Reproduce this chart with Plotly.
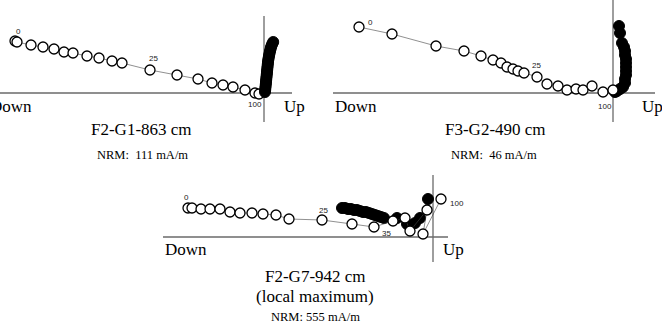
import plotly.graph_objects as go

W, H = 662, 326

# ---------------- data (Zijderveld components, arbitrary units) ----------------
# Panel A: F2-G1-863 cm
a_open_h = [-249, -247, -233, -221, -210, -200, -191, -177, -165, -152, -142, -114, -87, -66, -52, -41, -31, -19, -9, -5]
a_open_v = [52, 51, 48, 46, 44, 41, 40, 37, 35, 32, 30, 23, 18, 14, 10, 8, 6, 3, 0, -1]
a_fill_h = [1, 1.2, 1.4, 1.6, 1.8, 2, 2.2, 2.4, 2.6, 2.8, 3, 3.2, 3.4, 3.6, 3.8, 4, 4.3, 4.6, 5, 5.4, 5.8, 6.3, 6.8, 7.4, 8.2, 9.2]
a_fill_v = [1, 3, 5, 7, 9, 11, 13, 15, 17, 19, 21, 23, 25, 27, 29, 31, 33, 35, 37, 39, 41, 43, 45, 47, 49, 51]
a_labels = ["0", "25", "100"]
a_lab_h = [-246, -111, -9]
a_lab_v = [62, 35, -11]

# Panel B: F3-G2-490 cm
b_open_h = [-254, -221, -177, -149, -132, -120, -112, -106, -100, -95, -89, -76, -66, -55, -46, -37, -30, -21, -10, 0]
b_open_v = [66, 59, 47, 42, 37, 33, 30, 26, 24, 22, 20, 16, 9, 7, 3, 4, 3, 7, 1, 3]
b_fill_h = [6, 7, 9, 11, 12, 12, 13, 13, 13, 13, 13, 12, 12, 10, 7, 4, 2]
b_fill_v = [67, 60, 50, 46, 42, 38, 34, 30, 26, 22, 18, 14, 10, 6, 4, 2, 1]
b_labels = ["0", "25", "100"]
b_lab_h = [-243, -77, -8]
b_lab_v = [71, 28, -13]

# Panel C: F2-G7-942 cm
c_open_h = [-245, -241, -232, -223, -213, -203, -193, -181, -170, -157, -144, -111, -81, -59, -40, -28, -23, -6, -10, 8]
c_open_v = [29, 29, 28, 28, 28, 25, 24, 24, 23, 22, 18, 17, 13, 10, 16, 19, 6, 27, 3, 38]
c_fill_h = [-91, -88, -85, -82, -79, -76, -73, -70, -67, -64, -61, -58, -55, -52, -49, -36, -26, -18, -13, -5]
c_fill_v = [29, 29, 28, 28, 27, 27, 26, 25, 25, 24, 23, 22, 21, 20, 19, 19, 13, 14, 19, 38]
c_labels = ["0", "25", "35", "100"]
c_lab_h = [-247, -110, -47, 15]
c_lab_v = [40, 27, 4, 34]

# ---------------- layout helpers ----------------
def px_x(p):
    return p / W

def px_y(p):
    return 1 - p / H

panels = [
    dict(oh=a_open_h, ov=a_open_v, fh=a_fill_h, fv=a_fill_v, lt=a_labels, lh=a_lab_h, lv=a_lab_v,
         xd=(0, 292), yd=(16, 122), o=(264, 93), fill_first=False),
    dict(oh=b_open_h, ov=b_open_v, fh=b_fill_h, fv=b_fill_v, lt=b_labels, lh=b_lab_h, lv=b_lab_v,
         xd=(333, 655), yd=(0, 122), o=(613, 93), fill_first=True),
    dict(oh=c_open_h, ov=c_open_v, fh=c_fill_h, fv=c_fill_v, lt=c_labels, lh=c_lab_h, lv=c_lab_v,
         xd=(163, 448), yd=(175, 262), o=(433, 237), fill_first=True),
]

fig = go.Figure()
shapes = []
annotations = []
layout_axes = {}

for i, p in enumerate(panels, start=1):
    xa = "x" if i == 1 else f"x{i}"
    ya = "y" if i == 1 else f"y{i}"
    xr = [p["xd"][0] - p["o"][0], p["xd"][1] - p["o"][0]]
    yr = [p["o"][1] - p["yd"][1], p["o"][1] - p["yd"][0]]
    xkey = "xaxis" if i == 1 else f"xaxis{i}"
    ykey = "yaxis" if i == 1 else f"yaxis{i}"
    layout_axes[xkey] = dict(domain=[px_x(p["xd"][0]), px_x(p["xd"][1])], range=xr,
                             visible=False, anchor=ya, fixedrange=True)
    layout_axes[ykey] = dict(domain=[px_y(p["yd"][1]), px_y(p["yd"][0])], range=yr,
                             visible=False, anchor=xa, fixedrange=True)
    shapes.append(dict(type="line", xref=xa, yref=ya, x0=xr[0], x1=xr[1], y0=0, y1=0,
                       line=dict(color="#6a6a6a", width=1.3), layer="below"))
    shapes.append(dict(type="line", xref=xa, yref=ya, x0=0, x1=0, y0=yr[0], y1=yr[1],
                       line=dict(color="#6a6a6a", width=1.3), layer="below"))

    fill_tr = go.Scatter(x=p["fh"], y=p["fv"], mode="lines+markers", xaxis=xa, yaxis=ya,
                         line=dict(color="#333", width=0.6),
                         marker=dict(size=11, color="black", line=dict(color="black", width=1)),
                         showlegend=False, hoverinfo="skip", cliponaxis=False)
    open_tr = go.Scatter(x=p["oh"], y=p["ov"], mode="lines+markers", xaxis=xa, yaxis=ya,
                         line=dict(color="#444", width=0.6),
                         marker=dict(size=10, color="white", line=dict(color="black", width=1.3)),
                         showlegend=False, hoverinfo="skip", cliponaxis=False)
    if p["fill_first"]:
        fig.add_trace(fill_tr)
        fig.add_trace(open_tr)
    else:
        fig.add_trace(open_tr)
        fig.add_trace(fill_tr)

    for t, h, v in zip(p["lt"], p["lh"], p["lv"]):
        annotations.append(dict(x=h, y=v, xref=xa, yref=ya, text=t, showarrow=False,
                                xanchor="left" if (t == "100" and i == 3) else "center",
                                yanchor="middle",
                                font=dict(family="Liberation Sans, Arial, sans-serif", size=8, color="#222")))

serif = "Liberation Serif, Times New Roman, DejaVu Serif, serif"
texts = [
    ("Down", -12, 106, "left", 17),
    ("Up", 282, 106, "left", 17),
    ("Down", 333, 106, "left", 17),
    ("Up", 640, 106, "left", 17),
    ("Down", 163, 249, "left", 17),
    ("Up", 441, 249, "left", 17),
    ("F2-G1-863 cm", 141, 130, "center", 17),
    ("NRM:  111 mA/m", 142, 155, "center", 12.5),
    ("F3-G2-490 cm", 495, 130, "center", 17),
    ("NRM:  46 mA/m", 494, 155, "center", 12.5),
    ("F2-G7-942 cm", 315, 276, "center", 17),
    ("(local maximum)", 315, 296, "center", 17),
    ("NRM: 555 mA/m", 315, 317, "center", 12.5),
]
for t, x, y, anc, s in texts:
    annotations.append(dict(x=px_x(x), y=px_y(y), xref="paper", yref="paper", text=t,
                            showarrow=False, xanchor=anc, yanchor="middle",
                            font=dict(family=serif, size=s, color="black")))

fig.update_layout(width=W, height=H, margin=dict(l=0, r=0, t=0, b=0),
                  paper_bgcolor="white", plot_bgcolor="rgba(0,0,0,0)",
                  shapes=shapes, annotations=annotations, showlegend=False, **layout_axes)

fig.write_html("out.html", config={"displayModeBar": False})
